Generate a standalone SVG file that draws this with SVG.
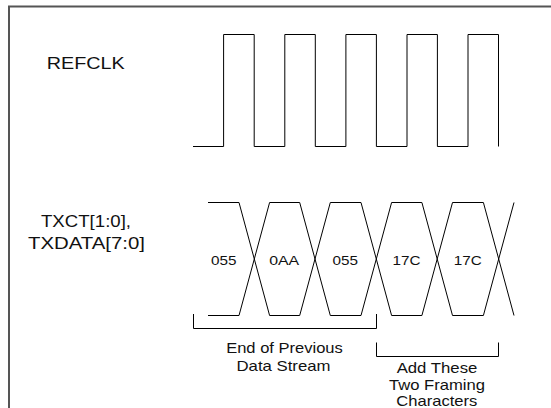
<svg xmlns="http://www.w3.org/2000/svg" width="551" height="408" viewBox="0 0 551 408">
<style>
text{font-family:"Liberation Sans",Arial,sans-serif;fill:#111}
.sig{fill:none;stroke:#000;stroke-width:1}
.lbl{font-size:17px}
.val{font-size:13.5px;text-anchor:middle}
.note{font-size:15px;text-anchor:middle}
</style>
<rect width="551" height="408" fill="#fff"/>
<path id="frame" d="M9,408 V6.5 H551" fill="none" stroke="#555" stroke-width="2"/>
<g id="refclk">
<text class="lbl" x="46.7" y="69" textLength="78" lengthAdjust="spacingAndGlyphs">REFCLK</text>
<path class="sig" d="M193,146.5 H223.6 V34.5 H254.2 V146.5 H284.8 V34.5 H315.3 V146.5 H345.9 V34.5 H376.4 V146.5 H407 V34.5 H437.4 V146.5 H468 V34.5 H498.5 V146.5"/>
</g>
<g id="txdata">
<text class="lbl" x="86" y="226.5" text-anchor="middle" textLength="90" lengthAdjust="spacingAndGlyphs">TXCT[1:0],</text>
<text class="lbl" x="86.5" y="249" text-anchor="middle" textLength="117" lengthAdjust="spacingAndGlyphs">TXDATA[7:0]</text>
<path class="sig" d="M208,202.5 H239 L269.6,315.5 H299.7 L330.3,202.5 H361 L391.6,315.5 H421.9 L452.5,202.5 H483.4 L514,315.5"/>
<path class="sig" d="M208,315.5 H239 L269.6,202.5 H299.7 L330.3,315.5 H361 L391.6,202.5 H421.9 L452.5,315.5 H483.4 L514,202.5"/>
<text class="val" x="223.7" y="264.5" textLength="25.5" lengthAdjust="spacingAndGlyphs">055</text>
<text class="val" x="284.2" y="264.5" textLength="30" lengthAdjust="spacingAndGlyphs">0AA</text>
<text class="val" x="345.3" y="264.5" textLength="25.5" lengthAdjust="spacingAndGlyphs">055</text>
<text class="val" x="406.6" y="264.5" textLength="28" lengthAdjust="spacingAndGlyphs">17C</text>
<text class="val" x="467.8" y="264.5" textLength="28" lengthAdjust="spacingAndGlyphs">17C</text>
</g>
<g id="brackets">
<path class="sig" d="M193.5,314 V328.5 H376.5 V314"/>
<path class="sig" d="M376.5,342.5 V356.5 H498.5 V342.5"/>
</g>
<g id="notes">
<text class="note" x="284.5" y="352.7" textLength="116.7" lengthAdjust="spacingAndGlyphs">End of Previous</text>
<text class="note" x="283.5" y="371" textLength="94" lengthAdjust="spacingAndGlyphs">Data Stream</text>
<text class="note" x="437" y="373.3" textLength="80.7" lengthAdjust="spacingAndGlyphs">Add These</text>
<text class="note" x="437" y="389.8" textLength="96" lengthAdjust="spacingAndGlyphs">Two Framing</text>
<text class="note" x="436.8" y="406" textLength="81" lengthAdjust="spacingAndGlyphs">Characters</text>
</g>
</svg>
